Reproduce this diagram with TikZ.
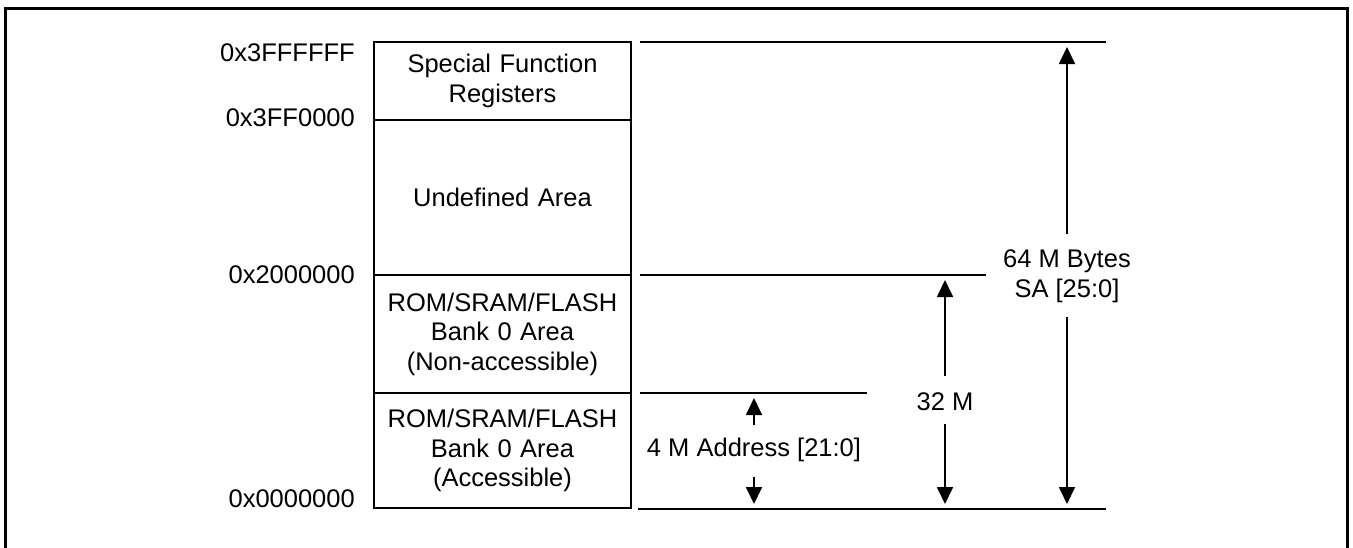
\documentclass[tikz,border=0pt]{standalone}
\usepackage{fontspec}
\setmainfont{Liberation Sans}
\usetikzlibrary{arrows.meta}
\tikzset{
  txt/.style={font=\fontsize{25.5}{29.5}\selectfont, inner sep=0pt, align=center},
  memblock/.style={txt, draw, line width=2.2pt, minimum width=257pt, text width=250pt},
  addr/.style={txt, anchor=east},
  rangeline/.style={line width=2.5pt},
  dimarrow/.style={line width=1.8pt, -{Triangle[length=17pt,width=16pt]}},
  frameline/.style={line width=3pt}
}
\begin{document}
\begin{tikzpicture}[x=1pt,y=-1pt]
\useasboundingbox (0,0) rectangle (1353,547);
% outer frame
\coordinate (fbl) at (5,552);
\coordinate (ftl) at (5,8);
\coordinate (ftr) at (1347,8);
\coordinate (fbr) at (1347,552);
\draw[frameline] (fbl) -- (ftl) -- (ftr) -- (fbr);

% memory blocks
\node[memblock, minimum height=78pt] (sfr) at (502.5,81) {Special Function\\Registers};
\node[memblock, minimum height=155pt] (undef) at (502.5,197.5) {Undefined Area};
\node[memblock, minimum height=118pt] (nonacc) at (502.5,334) {ROM/SRAM/FLASH\\Bank 0 Area\\(Non-accessible)};
\node[memblock, minimum height=115pt] (acc) at (502.5,450.5) {ROM/SRAM/FLASH\\Bank 0 Area\\(Accessible)};

% addresses
\node[addr] (a3ff) at (355,53) {0x3FFFFFF};
\node[addr] (a3f0) at (355,118) {0x3FF0000};
\node[addr] (a200) at (355,275) {0x2000000};
\node[addr] (a000) at (355,499) {0x0000000};

% range lines
\coordinate (top0) at (640,42);   \coordinate (top1) at (1106,42);
\coordinate (mid0) at (640,275);  \coordinate (mid1) at (986,275);
\coordinate (low0) at (640,393);  \coordinate (low1) at (867,393);
\coordinate (bot0) at (638,509);  \coordinate (bot1) at (1106,509);
\draw[rangeline] (top0) -- (top1);
\draw[rangeline] (mid0) -- (mid1);
\draw[rangeline] (low0) -- (low1);
\draw[rangeline] (bot0) -- (bot1);

% 64 M
\node[txt] (t64) at (1067,276) {64 M Bytes\\SA [25:0]};
\coordinate (t64u) at (1067,234);
\coordinate (t64d) at (1067,317);
\coordinate (t64top) at (1067,47);
\coordinate (t64bot) at (1067,504);
\draw[dimarrow] (t64u) -- (t64top);
\draw[dimarrow] (t64d) -- (t64bot);

% 32 M
\node[txt] (t32) at (945,402) {32 M};
\coordinate (t32u) at (945,376);
\coordinate (t32d) at (945,424);
\coordinate (t32top) at (945,280);
\coordinate (t32bot) at (945,504);
\draw[dimarrow] (t32u) -- (t32top);
\draw[dimarrow] (t32d) -- (t32bot);

% 4 M
\node[txt] (t4) at (754,450) {4 M Address [21:0]};
\coordinate (t4u) at (754,425);
\coordinate (t4d) at (754,477);
\coordinate (t4top) at (754,398);
\coordinate (t4bot) at (754,504);
\draw[dimarrow] (t4u) -- (t4top);
\draw[dimarrow] (t4d) -- (t4bot);
\end{tikzpicture}
\end{document}
